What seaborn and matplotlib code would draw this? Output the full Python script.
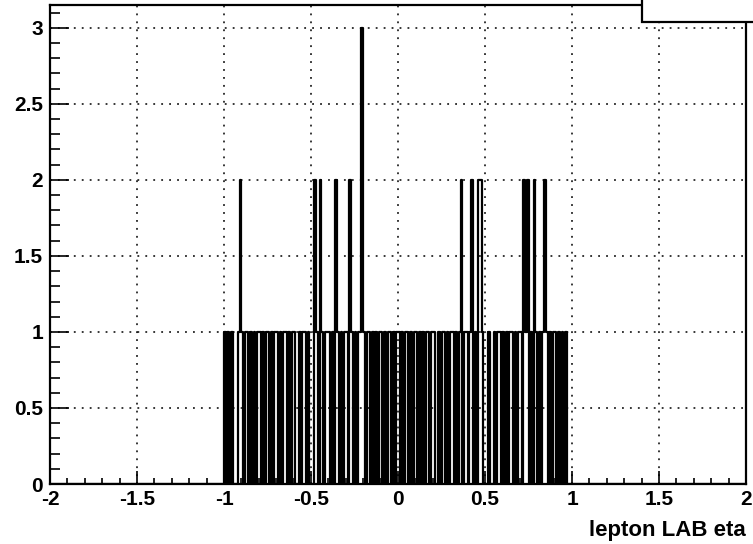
import numpy as np
import pandas as pd
import matplotlib
matplotlib.use("Agg")
import matplotlib.pyplot as plt
from matplotlib.patches import Rectangle
from matplotlib.ticker import MultipleLocator
import seaborn as sns

# histogram: 400 bins of width 0.01 on [-2, 2]; non-empty region starts at -1.00
bin_width = 0.01
first_edge = -1.00
counts = [
    1, 0, 1, 0, 1, 0, 0, 0, 1, 2, 1, 0, 1, 1, 0, 1, 0, 1, 0, 1,   # -1.00 .. -0.81
    1, 0, 1, 0, 1, 1, 0, 1, 0, 1, 1, 0, 1, 0, 1, 1, 0, 1, 0, 1,   # -0.80 .. -0.61
    1, 0, 0, 1, 0, 1, 1, 0, 1, 0, 0, 0, 2, 1, 0, 2, 1, 0, 1, 1,   # -0.60 .. -0.41
    1, 0, 1, 0, 2, 1, 0, 1, 0, 1, 1, 0, 2, 1, 0, 1, 0, 1, 1, 3,   # -0.40 .. -0.21
    1, 0, 1, 1, 0, 1, 0, 1, 0, 1, 1, 0, 1, 0, 1, 1, 0, 1, 0, 1,   # -0.20 .. -0.01
    1, 0, 1, 0, 1, 1, 0, 1, 0, 1, 1, 0, 1, 0, 1, 0, 1, 1, 0, 1,   #  0.00 ..  0.19
    1, 0, 0, 1, 0, 1, 1, 0, 1, 0, 1, 1, 0, 1, 0, 1, 2, 0, 1, 1,   #  0.20 ..  0.39
    0, 1, 2, 0, 1, 0, 2, 2, 1, 0, 0, 0, 1, 0, 0, 1, 0, 1, 1, 0,   #  0.40 ..  0.59
    1, 0, 1, 0, 1, 1, 0, 1, 0, 1, 1, 0, 2, 1, 2, 0, 1, 0, 2, 1,   #  0.60 ..  0.79
    0, 1, 0, 1, 2, 1, 0, 1, 0, 1, 1, 0, 1, 0, 1, 0, 1,            #  0.80 ..  0.96
]
x_ticks = [-2, -1.5, -1, -0.5, 0, 0.5, 1, 1.5, 2]
x_tick_labels = ["-2", "-1.5", "-1", "-0.5", "0", "0.5", "1", "1.5", "2"]
y_ticks = [0, 0.5, 1, 1.5, 2, 2.5, 3]
y_tick_labels = ["0", "0.5", "1", "1.5", "2", "2.5", "3"]
x_label = "lepton LAB eta"

centers = [first_edge + bin_width * (i + 0.5) for i in range(len(counts))]
df = pd.DataFrame({"eta": centers, "n": counts})

sns.set_theme(style="white")
plt.rcParams["font.family"] = ["Liberation Sans", "DejaVu Sans"]

fig = plt.figure(figsize=(7.53, 5.44), dpi=100)
ax = fig.add_axes([50 / 753, 1 - 484 / 544, 696 / 753, 479 / 544])

sns.histplot(data=df, x="eta", weights="n", bins=400, binrange=(-2, 2),
             element="step", fill=False, color="black", linewidth=1.6, ax=ax)

ax.set_xlim(-2, 2)
ax.set_ylim(0, 3.15)
ax.set_xticks(x_ticks)
ax.set_xticklabels(x_tick_labels, fontsize=15, fontweight="bold")
ax.set_yticks(y_ticks)
ax.set_yticklabels(y_tick_labels, fontsize=15, fontweight="bold")
ax.xaxis.set_minor_locator(MultipleLocator(0.1))
ax.yaxis.set_minor_locator(MultipleLocator(0.1))
ax.tick_params(axis="x", which="major", direction="in", length=9.5, width=1.2,
               color="black", pad=4, top=False, bottom=True)
ax.tick_params(axis="x", which="minor", direction="in", length=4.5, width=1.2,
               color="black", top=False, bottom=True)
ax.tick_params(axis="y", which="major", direction="in", length=14, width=1.2,
               color="black", pad=5, left=True, right=False)
ax.tick_params(axis="y", which="minor", direction="in", length=7.5, width=1.2,
               color="black", left=True, right=False)
for lab in ax.get_xticklabels() + ax.get_yticklabels():
    lab.set_color("black")

ax.grid(True, which="major", color="black", linestyle=(0, (1.2, 4)), linewidth=1.1)
ax.set_axisbelow(True)
for s in ax.spines.values():
    s.set_color("black")
    s.set_linewidth(1.6)

ax.set_ylabel("")
ax.set_xlabel(x_label, fontsize=16, fontweight="bold", color="black")
ax.xaxis.set_label_coords(1.0, -0.075)
ax.xaxis.label.set_horizontalalignment("right")

# clipped stats box in the top right corner
box = Rectangle((642 / 753, 1 - 22 / 544), 0.2, 0.1, transform=fig.transFigure,
                facecolor="white", edgecolor="black", linewidth=1.6, zorder=10,
                clip_on=False)
fig.patches.append(box)

fig.savefig("out.png", dpi=100)
